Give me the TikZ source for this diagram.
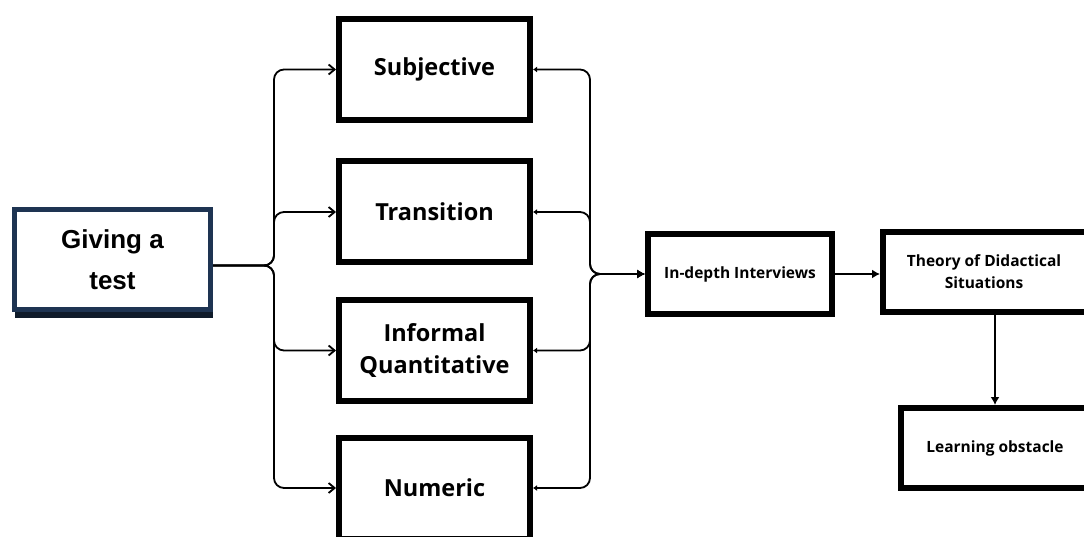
\documentclass[tikz,border=0pt]{standalone}
\usepackage{fontspec}
\newfontfamily\boxfont{Open Sans}
\newfontfamily\arialfont{Liberation Sans}
\usetikzlibrary{arrows.meta}
\definecolor{navy}{HTML}{1E3452}
\definecolor{shadownavy}{HTML}{0F1B2A}
\tikzset{
  bigbox/.style={draw=black, line width=6pt, fill=white, minimum width=191pt, minimum height=101pt, inner sep=0pt, align=center, font=\boxfont\bfseries\fontsize{23.5}{32}\selectfont},
  smallbox/.style={draw=black, line width=6pt, fill=white, minimum height=80pt, inner sep=0pt, align=center, font=\boxfont\bfseries\fontsize{15.5}{22}\selectfont},
  smalltext/.style={inner sep=0pt, align=center, font=\boxfont\bfseries\fontsize{15.5}{22}\selectfont},
  conn/.style={line width=1.8pt, rounded corners=10pt},
  leftarrow/.style={conn, -{Straight Barb[length=6pt,width=10pt,line width=1.8pt]}},
  rightconn/.style={conn, {Latex[length=4pt,width=6pt]}-{Latex[length=8pt,width=9pt]}},
  downarrow/.style={line width=1.8pt, -{Latex[length=8pt,width=9pt]}}
}
\begin{document}
\begin{tikzpicture}[x=1pt,y=-1pt]
\useasboundingbox (0,0) rectangle (1084,537);
\fill[white] (0,0) rectangle (1084,537);
\coordinate (LX) at (274,0);
\coordinate (RX) at (590,0);
% shadow of giving box
\fill[shadownavy] (15,212) rectangle (213,318);
\node[draw=navy, line width=5pt, fill=white, minimum width=196pt, minimum height=100pt, inner sep=0pt, align=center, font=\arialfont\bfseries\fontsize{26}{41}\selectfont] (G) at (112.5,259.5) {Giving a\\test};
\node[bigbox] (S) at (434.5,69.5) {Subjective};
\node[bigbox] (T) at (434.5,212) {Transition};
\node[bigbox] (Q) at (434.5,350.5) {Informal\\Quantitative};
\node[bigbox] (N) at (434.5,488) {Numeric};
\node[smallbox, minimum width=184pt] (I) at (740,274) {In-depth Interviews};
\node[smallbox, minimum width=240pt] (D) at (1003,272) {};
\node[smalltext] (Dt) at (984,272) {Theory of Didactical\\Situations};
\node[smallbox, minimum width=230pt] (L) at (1016,448) {};
\node[smalltext] (Lt) at (995,448) {Learning obstacle};
\coordinate (Gout) at ([yshift=-6pt]G.east);
% left connectors
\draw[leftarrow] (Gout) -- (Gout -| LX) -- (LX |- S.west) -- (S.west);
\draw[leftarrow] (Gout) -- (Gout -| LX) -- (LX |- T.west) -- (T.west);
\draw[leftarrow] (Gout) -- (Gout -| LX) -- (LX |- Q.west) -- (Q.west);
\draw[leftarrow] (Gout) -- (Gout -| LX) -- (LX |- N.west) -- (N.west);
% right connectors
\draw[rightconn] (S.east) -- (RX |- S.east) -- (RX |- I.west) -- (I.west);
\draw[rightconn] (T.east) -- (RX |- T.east) -- (RX |- I.west) -- (I.west);
\draw[rightconn] (Q.east) -- (RX |- Q.east) -- (RX |- I.west) -- (I.west);
\draw[rightconn] (N.east) -- (RX |- N.east) -- (RX |- I.west) -- (I.west);
% chain
\draw[downarrow] (I.east) -- (I.east -| D.west);
\coordinate (Ltop) at (Lt.center |- L.north);
\draw[downarrow] (Ltop |- D.south) -- (Ltop);
\end{tikzpicture}
\end{document}
